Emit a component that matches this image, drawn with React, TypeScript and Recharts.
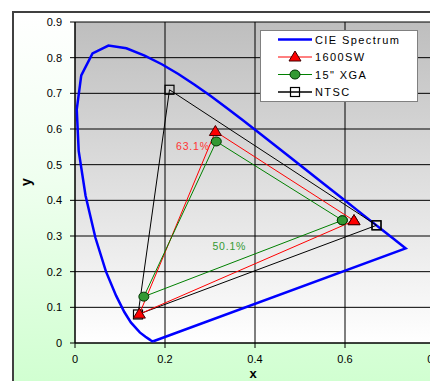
import { ScatterChart, Scatter, XAxis, YAxis, CartesianGrid, Label } from "recharts";

// CIE 1931 spectral locus, 420-650 nm plus the red end, closed back to the violet end
const cieSpectrum = [
  { x: 0.1741, y: 0.005 }, { x: 0.1714, y: 0.0051 }, { x: 0.1689, y: 0.0069 },
  { x: 0.1644, y: 0.0109 }, { x: 0.1566, y: 0.0177 }, { x: 0.144, y: 0.0297 },
  { x: 0.1241, y: 0.0578 }, { x: 0.1096, y: 0.0868 }, { x: 0.0913, y: 0.1327 },
  { x: 0.0687, y: 0.2007 }, { x: 0.0454, y: 0.295 }, { x: 0.0235, y: 0.4127 },
  { x: 0.0082, y: 0.5384 }, { x: 0.0039, y: 0.6548 }, { x: 0.0139, y: 0.7502 },
  { x: 0.0389, y: 0.812 }, { x: 0.0743, y: 0.8338 }, { x: 0.1142, y: 0.8262 },
  { x: 0.1547, y: 0.8059 }, { x: 0.1929, y: 0.7816 }, { x: 0.2296, y: 0.7543 },
  { x: 0.2658, y: 0.7243 }, { x: 0.3016, y: 0.6923 }, { x: 0.3373, y: 0.6589 },
  { x: 0.3731, y: 0.6245 }, { x: 0.4087, y: 0.5896 }, { x: 0.4441, y: 0.5547 },
  { x: 0.4788, y: 0.5202 }, { x: 0.5125, y: 0.4866 }, { x: 0.5448, y: 0.4544 },
  { x: 0.5752, y: 0.4242 }, { x: 0.6029, y: 0.3965 }, { x: 0.627, y: 0.3725 },
  { x: 0.6482, y: 0.3514 }, { x: 0.6658, y: 0.334 }, { x: 0.6801, y: 0.3197 },
  { x: 0.6915, y: 0.3083 }, { x: 0.7006, y: 0.2993 }, { x: 0.7079, y: 0.292 },
  { x: 0.714, y: 0.2859 }, { x: 0.719, y: 0.2809 }, { x: 0.726, y: 0.274 },
  { x: 0.7347, y: 0.2653 }, { x: 0.1741, y: 0.005 },
];

const sw1600 = [
  { x: 0.62, y: 0.343 }, { x: 0.312, y: 0.593 }, { x: 0.143, y: 0.081 }, { x: 0.62, y: 0.343 },
];
const xga15 = [
  { x: 0.594, y: 0.344 }, { x: 0.314, y: 0.565 }, { x: 0.153, y: 0.13 }, { x: 0.594, y: 0.344 },
];
const ntsc = [
  { x: 0.67, y: 0.33 }, { x: 0.21, y: 0.71 }, { x: 0.14, y: 0.08 }, { x: 0.67, y: 0.33 },
];

const areaLabels = [
  { x: 0.262, y: 0.553, text: "63.1%", color: "#FF3333" },
  { x: 0.343, y: 0.271, text: "50.1%", color: "#339933" },
];

const xTicks = [0, 0.2, 0.4, 0.6, 0.8];
const yTicks = [0, 0.1, 0.2, 0.3, 0.4, 0.5, 0.6, 0.7, 0.8, 0.9];

const legendItems = [
  { name: "CIE Spectrum", color: "#0000FF", marker: "none" },
  { name: "1600SW", color: "#FF0000", marker: "triangle" },
  { name: "15\" XGA", color: "#008000", marker: "circle" },
  { name: "NTSC", color: "#000000", marker: "square" },
];

const FONT = "'Liberation Sans', Arial, sans-serif";

const Marker = ({ kind, cx, cy }: { kind: string; cx: number; cy: number }) => {
  if (kind === "triangle")
    return <polygon points={`${cx},${cy - 6} ${cx + 6},${cy + 4} ${cx - 6},${cy + 4}`} fill="#FF0000" stroke="#400000" strokeWidth={1} />;
  if (kind === "circle")
    return <ellipse cx={cx} cy={cy} rx={5} ry={4.5} fill="#339933" stroke="#003300" strokeWidth={1} />;
  if (kind === "square")
    return <rect x={cx - 4.5} y={cy - 4.5} width={9} height={9} fill="none" stroke="#000" strokeWidth={1.2} />;
  return <g />;
};

const markerShape = (kind: string) => (p: any) => <Marker kind={kind} cx={p.cx} cy={p.cy} />;

const LegendBox = () => (
  <div style={{ position: "absolute", left: 260, top: 30, width: 156, height: 70, background: "#fff", border: "1.5px solid #808080", fontFamily: FONT }}>
    <svg width={156} height={70} style={{ display: "block" }}>
      {legendItems.map((it, i) => {
        const y = 8.5 + i * 17.5;
        return (
          <g key={it.name}>
            <line x1={17} x2={51} y1={y} y2={y} stroke={it.color} strokeWidth={it.marker === "none" ? 2.5 : it.marker === "square" ? 1.5 : 1} />
            <Marker kind={it.marker} cx={34} cy={y} />
            <text x={54} y={y + 4} fontSize={11} letterSpacing={1.4} fill="#000">{it.name}</text>
          </g>
        );
      })}
    </svg>
  </div>
);

export default function App() {
  return (
    <div style={{ position: "absolute", left: 0, top: 0, width: 430, height: 381, overflow: "hidden", background: "#fff" }}>
      <div
        style={{
          position: "absolute", left: 12, top: 11, width: 460, height: 400,
          border: "2px solid #404040",
          background: "linear-gradient(to bottom, #ffffff 0%, #f0fff0 40%, #ccffcc 100%)",
        }}
      />
      <div style={{ position: "absolute", left: 0, top: 0 }}>
        <ScatterChart width={460} height={381} margin={{ top: 22, right: 25, left: 0, bottom: 0 }}>
          <defs>
            <linearGradient id="plotBg" x1="0" y1="0" x2="0" y2="1">
              <stop offset="0%" stopColor="#BEBEBE" />
              <stop offset="100%" stopColor="#FFFFFF" />
            </linearGradient>
          </defs>
          <CartesianGrid stroke="#000" fill="url(#plotBg)" fillOpacity={1} />
          <XAxis
            type="number" dataKey="x" domain={[0, 0.8]} ticks={xTicks} height={38}
            axisLine={{ stroke: "#000" }} tickLine={{ stroke: "#000" }} tickSize={5} tickMargin={7}
            tick={{ fill: "#000", fontSize: 11, fontFamily: FONT }}
            tickFormatter={(v: number) => (v === 0 ? "0" : v.toFixed(1))}
          >
            <Label content={() => <text x={253} y={378} textAnchor="middle" fontSize={13} fontWeight="bold" fontFamily={FONT}>x</text>} />
          </XAxis>
          <YAxis
            type="number" dataKey="y" domain={[0, 0.9]} ticks={yTicks} width={75}
            axisLine={{ stroke: "#000" }} tickLine={{ stroke: "#000" }} tickSize={5} tickMargin={8}
            tick={{ fill: "#000", fontSize: 11, fontFamily: FONT }}
            tickFormatter={(v: number) => (v === 0 ? "0" : v.toFixed(1))}
          >
            <Label content={() => <text x={31} y={182} textAnchor="middle" fontSize={14} fontWeight="bold" fontFamily={FONT} transform="rotate(-90, 31, 182)">y</text>} />
          </YAxis>
          <Scatter data={cieSpectrum} line={{ stroke: "#0000FF", strokeWidth: 2.5 }} stroke="#0000FF" shape={() => <g />} isAnimationActive={false} />
          <Scatter data={ntsc} line={{ stroke: "#000", strokeWidth: 1 }} stroke="#000" shape={markerShape("square")} isAnimationActive={false} />
          <Scatter data={sw1600} line={{ stroke: "#FF0000", strokeWidth: 1 }} stroke="#FF0000" shape={markerShape("triangle")} isAnimationActive={false} />
          <Scatter data={xga15} line={{ stroke: "#008000", strokeWidth: 1 }} stroke="#008000" shape={markerShape("circle")} isAnimationActive={false} />
          <Scatter
            data={areaLabels}
            isAnimationActive={false}
            shape={(p: any) => (
              <text x={p.cx} y={p.cy + 4} textAnchor="middle" fontSize={10.5} letterSpacing={0.8} fill={p.payload.color} fontFamily={FONT}>
                {p.payload.text}
              </text>
            )}
          />
        </ScatterChart>
      </div>
      <LegendBox />
    </div>
  );
}
